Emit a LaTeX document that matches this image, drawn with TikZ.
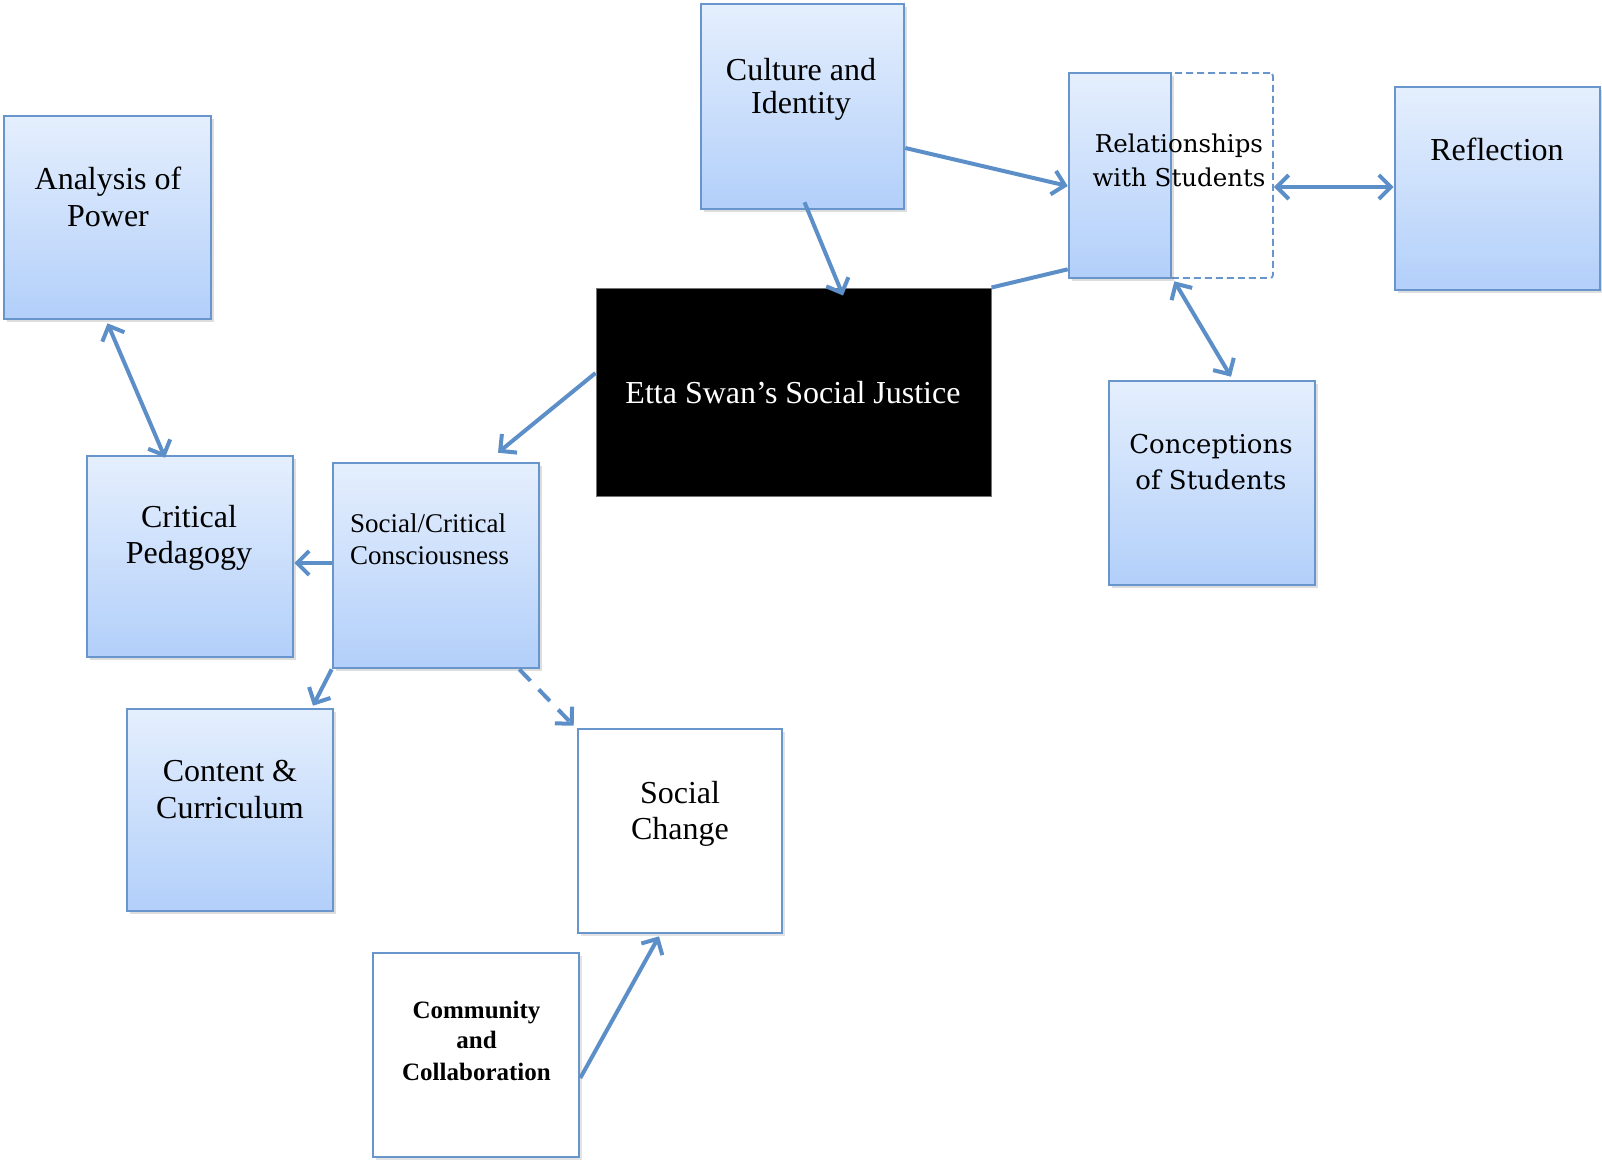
\documentclass[tikz,border=0pt]{standalone}
\usepackage{fontspec}
\setmainfont{Liberation Serif}
\newfontfamily\dvs{DejaVu Serif}
\usetikzlibrary{arrows.meta,shadows,calc}

\definecolor{boxline}{RGB}{104,150,204}
\definecolor{arrowc}{RGB}{92,142,200}
\definecolor{gradtop}{RGB}{229,239,253}
\definecolor{gradbot}{RGB}{178,207,250}

\tikzset{
  panel/.style={draw=boxline, line width=2.6pt, inner sep=0pt,
    top color=gradtop, bottom color=gradbot,
    drop shadow={shadow xshift=3pt, shadow yshift=-3pt, opacity=0.22, fill=black!60}},
  plainpanel/.style={draw=boxline, line width=2.6pt, inner sep=0pt, fill=white,
    drop shadow={shadow xshift=3pt, shadow yshift=-3pt, opacity=0.18, fill=black!60}},
  lbl/.style={anchor=base, inner sep=0pt, font=\fontsize{32}{32}\selectfont},
  lblsm/.style={anchor=base, inner sep=0pt, font=\fontsize{27}{27}\selectfont},
  lblrel/.style={anchor=base, inner sep=0pt, font=\dvs\fontsize{24.5}{24.5}\selectfont},
  lblcs/.style={anchor=base, inner sep=0pt, font=\dvs\fontsize{26}{26}\selectfont},
  lblbold/.style={anchor=base, inner sep=0pt, font=\bfseries\fontsize{25}{25}\selectfont},
  link/.style={draw=arrowc, line width=4pt},
  tip/.style={-{Straight Barb[length=12pt,width=24pt]}},
  tips/.style={{Straight Barb[length=12pt,width=24pt]}-{Straight Barb[length=12pt,width=24pt]}},
}

\begin{document}
\begin{tikzpicture}[x=1pt,y=-1pt]
\useasboundingbox (0,0) rectangle (1602,1160);

% boxes
\node[panel, minimum width=207pt, minimum height=203pt] (ap) at (107.5,217.5) {};
\node[panel, minimum width=203pt, minimum height=205pt] (ci) at (802.5,106.5) {};
\node[draw=boxline, line width=1.8pt, dashed, dash pattern=on 7pt off 4pt,
      rounded corners=3pt, fill=white, inner sep=0pt,
      minimum width=204pt, minimum height=205pt] (reld) at (1171,175.5) {};
\node[panel, minimum width=102pt, minimum height=205pt] (rel) at (1120,175.5) {};
\node[panel, minimum width=205pt, minimum height=203pt] (ref) at (1497.5,188.5) {};
\node[draw=black!55, line width=1pt, fill=black, inner sep=0pt,
      minimum width=395pt, minimum height=208pt] (etta) at (793.5,392) {};
\node[panel, minimum width=206pt, minimum height=204pt] (cs) at (1212,483) {};
\node[panel, minimum width=206pt, minimum height=201pt] (cp) at (190,556.5) {};
\node[panel, minimum width=206pt, minimum height=205pt] (scc) at (436,565.5) {};
\node[panel, minimum width=206pt, minimum height=202pt] (cc) at (230,810) {};
\node[plainpanel, minimum width=204pt, minimum height=204pt] (sch) at (680,831) {};
\node[plainpanel, minimum width=206pt, minimum height=204pt] (cac) at (476,1055) {};

% labels
\node[lbl] (ap1) at (108,189) {Analysis of};
\node[lbl] (ap2) at (108,226) {Power};
\node[lbl] (ci1) at (801,80) {Culture and};
\node[lbl] (ci2) at (801,113) {Identity};
\node[lblrel] (rel1) at (1179,152) {Relationships};
\node[lblrel] (rel2) at (1179,186) {with Students};
\node[lbl] (ref1) at (1497,160) {Reflection};
\node[lbl, text=white] (etta1) at (793,403) {Etta Swan’s Social Justice};
\node[lblcs] (cs1) at (1211,453) {Conceptions};
\node[lblcs] (cs2) at (1211,489) {of Students};
\node[lbl] (cp1) at (189,527) {Critical};
\node[lbl] (cp2) at (189,563) {Pedagogy};
\node[lblsm, anchor=base west] (scc1) at (350,532) {Social/Critical};
\node[lblsm, anchor=base west] (scc2) at (350,564) {Consciousness};
\node[lbl] (cc1) at (230,781) {Content \&};
\node[lbl] (cc2) at (230,818) {Curriculum};
\node[lbl] (sch1) at (680,803) {Social};
\node[lbl] (sch2) at (680,839) {Change};
\node[lblbold] (cac1) at (476.5,1018) {Community};
\node[lblbold] (cac2) at (476.5,1048) {and};
\node[lblbold] (cac3) at (476.5,1080) {Collaboration};

% connectors
\coordinate (sccw) at ([yshift=2.5pt]scc.west);
\coordinate (relr) at ([yshift=-11.5pt]reld.east);

\draw[link, tip] ([yshift=-41.5pt]ci.east) -- ([yshift=-10.5pt]rel.west);
\draw[link, tip] ([xshift=2pt,yshift=8pt]ci.south) -- ([xshift=49.5pt,yshift=-8pt]etta.north);
\draw[link] (etta.north east) -- ([yshift=10pt]rel.south west);
\draw[link, tips] (relr) -- (relr -| ref.west);
\draw[link, tips] ([xshift=2pt,yshift=-2pt]rel.south east) -- ([xshift=19pt,yshift=3pt]cs.north);
\draw[link, tip] ([yshift=19pt]etta.west) -- ([xshift=62pt,yshift=9pt]scc.north);
\draw[link, tips] ([yshift=-3pt]ap.south) -- ([xshift=-25pt,yshift=-3pt]cp.north);
\draw[link, tip] (sccw) -- (sccw -| cp.east);
\draw[link, tip] (scc.south west) -- ([xshift=83pt,yshift=2pt]cc.north);
\draw[link, tip, dash pattern=on 16pt off 12pt] ([xshift=-21pt]scc.south east) -- ([xshift=-3pt,yshift=2pt]sch.north west);
\draw[link, tip] ([yshift=-23pt]cac.east) -- ([xshift=-21pt,yshift=-2pt]sch.south);
\end{tikzpicture}
\end{document}
